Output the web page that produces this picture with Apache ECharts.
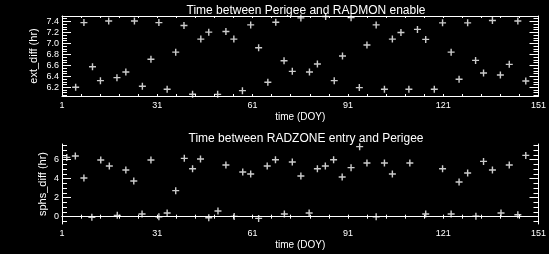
<!DOCTYPE html>
<html>
<head>
<meta charset="utf-8">
<script src="https://cdn.jsdelivr.net/npm/echarts@6/dist/echarts.min.js"></script>
<style>
html,body{margin:0;padding:0;background:#000;}
#c{width:549px;height:254px;}
</style>
</head>
<body>
<div id="c"></div>
<script>
// ---- data ----
const topTitle = 'Time between Perigee and RADMON enable';
const botTitle = 'Time between RADZONE entry and Perigee';
const xName = 'time (DOY)';
const topYName = 'ext_diff (hr)';
const botYName = 'sphs_diff (hr)';

const xTicks = [1, 31, 61, 91, 121, 151];
const topYTicks = [6.2, 6.4, 6.6, 6.8, 7.0, 7.2, 7.4];
const botYTicks = [0, 2, 4, 6];

const topDays = [5.3,7.9,10.6,13.1,15.7,18.3,21.1,23.8,26.3,29,31.5,34.1,36.8,39.4,42.1,44.7,47.2,50,52.6,55.1,57.8,60.4,62.9,65.8,68.3,70.9,73.5,76.2,78.9,81.4,84,86.7,89.3,92,94.6,97,99.9,102.5,105,107.7,110.2,112.9,115.5,118.2,120.8,123.5,126,128.7,131.2,133.7,136.5,139,141.8,144.5,147];
const topVals = [6.20,7.38,6.575,6.32,7.41,6.375,6.478,7.41,6.218,6.71,7.38,6.164,6.84,7.327,6.073,7.078,7.205,6.07,7.218,7.078,6.138,7.338,6.92,6.29,7.387,6.684,6.49,7.465,6.478,6.624,7.49,6.32,6.77,7.47,6.193,6.97,7.338,6.164,7.078,7.2,6.164,7.255,7.073,6.164,7.375,6.84,6.345,7.375,6.69,6.46,7.418,6.424,6.618,7.41,6.315];

const botDays = [2.5,5.2,7.9,10.4,13.2,15.9,18.4,21.1,23.6,26.2,29,31.5,34.1,36.8,39.5,42.1,44.6,47.2,50.1,52.6,55.2,57.9,60.4,62.9,65.6,68.2,71,73.5,76.2,78.8,81.4,83.9,86.5,89.2,92,94.7,97,99.9,102.5,105,110.5,115.5,120.8,123.5,126,128.7,131.3,133.7,136.5,139.2,141.8,144.5,147];
const botVals = [6.24,6.39,4.07,-0.07,5.97,5.34,0.14,4.92,3.76,0.28,5.97,0.0,0.39,2.74,6.14,5.05,6.07,-0.11,0.6,5.44,0.03,4.71,4.49,-0.18,5.34,6.0,0.28,5.76,4.28,0.39,5.05,5.34,6.0,4.18,5.16,7.37,5.65,0.0,5.65,4.49,5.65,0.28,5.05,0.28,3.65,4.6,0.05,5.82,4.92,0.39,5.44,0.21,6.45];

// axis ranges
const xMin = 1, xMax = 151;
const topYMin = 6.04, topYMax = 7.5;
const botYMin = -0.77, botYMax = 7.65;

// ---- build ----
function seq(a, b, step) {
  const out = [];
  for (let v = a; v <= b + 1e-9; v += step) out.push(Math.round(v * 1000) / 1000);
  return out;
}
const xMinor = seq(1, 151, 6);
const topYMinor = seq(6.05, 7.5, 0.05);
const botYMinor = seq(-0.5, 7.5, 0.5);

const WHITE = '#ffffff';
const FONT = 'Liberation Sans';
const lineStyle = {color: WHITE, width: 1};
const plusSym = 'path://M2.8,0H4.2V2.8H7V4.2H4.2V7H2.8V4.2H0V2.8H2.8Z';

function xAxes(gi) {
  return [
    {
      gridIndex: gi, type: 'value', position: 'bottom', min: xMin, max: xMax,
      axisLine: {show: true, lineStyle},
      axisTick: {show: true, inside: true, length: 2, customValues: xMinor, lineStyle},
      axisLabel: {show: true, customValues: xTicks, margin: 5, color: WHITE, fontFamily: FONT, fontSize: 9},
      splitLine: {show: false},
      name: xName, nameLocation: 'middle', nameGap: 16, nameMoveOverlap: false,
      nameTextStyle: {color: WHITE, fontFamily: FONT, fontSize: 10}
    },
    {
      gridIndex: gi, type: 'value', position: 'top', min: xMin, max: xMax,
      axisLine: {show: true, lineStyle},
      axisTick: {show: true, inside: true, length: 2, customValues: xMinor, lineStyle},
      axisLabel: {show: false},
      splitLine: {show: false}
    }
  ];
}

function yAxes(gi, min, max, ticks, minor, name, nameGap, digits) {
  const base = {gridIndex: gi, type: 'value', min, max, splitLine: {show: false}};
  return [
    Object.assign({}, base, {
      position: 'left',
      axisLine: {show: true, lineStyle},
      axisTick: {show: true, inside: true, length: 9, customValues: ticks, lineStyle},
      axisLabel: {show: true, customValues: ticks, margin: 3, color: WHITE, fontFamily: FONT, fontSize: 9,
        formatter: v => Number(v).toFixed(digits)},
      name, nameLocation: 'middle', nameGap, nameMoveOverlap: false,
      nameTextStyle: {color: WHITE, fontFamily: FONT, fontSize: 11}
    }),
    Object.assign({}, base, {
      position: 'left',
      axisLine: {show: false},
      axisTick: {show: true, inside: true, length: 5, customValues: minor, lineStyle},
      axisLabel: {show: false}
    }),
    Object.assign({}, base, {
      position: 'right',
      axisLine: {show: true, lineStyle},
      axisTick: {show: true, inside: true, length: 9, customValues: ticks, lineStyle},
      axisLabel: {show: false}
    }),
    Object.assign({}, base, {
      position: 'right',
      axisLine: {show: false},
      axisTick: {show: true, inside: true, length: 5, customValues: minor, lineStyle},
      axisLabel: {show: false}
    })
  ];
}

const chart = echarts.init(document.getElementById('c'), null, {renderer: 'canvas'});
chart.setOption({
  backgroundColor: '#000000',
  animation: false,
  title: [
    {text: topTitle, left: 301, top: 0, textAlign: 'center',
     textStyle: {color: WHITE, fontFamily: FONT, fontSize: 12, fontWeight: 'normal'}},
    {text: botTitle, left: 301, top: 128, textAlign: 'center',
     textStyle: {color: WHITE, fontFamily: FONT, fontSize: 12, fontWeight: 'normal'}}
  ],
  grid: [
    {left: 62, right: 10, top: 16, height: 80},
    {left: 62, right: 10, top: 144, height: 80}
  ],
  xAxis: [].concat(xAxes(0), xAxes(1)),
  yAxis: [].concat(
    yAxes(0, topYMin, topYMax, topYTicks, topYMinor, topYName, 23, 1),
    yAxes(1, botYMin, botYMax, botYTicks, botYMinor, botYName, 14, 0)
  ),
  series: [
    {type: 'scatter', xAxisIndex: 0, yAxisIndex: 0,
     data: topDays.map((d, i) => [d, topVals[i]]),
     symbol: plusSym, symbolSize: 7, itemStyle: {color: WHITE}, clip: true},
    {type: 'scatter', xAxisIndex: 2, yAxisIndex: 4,
     data: botDays.map((d, i) => [d, botVals[i]]),
     symbol: plusSym, symbolSize: 7, itemStyle: {color: WHITE}, clip: true}
  ]
});
</script>
</body>
</html>
